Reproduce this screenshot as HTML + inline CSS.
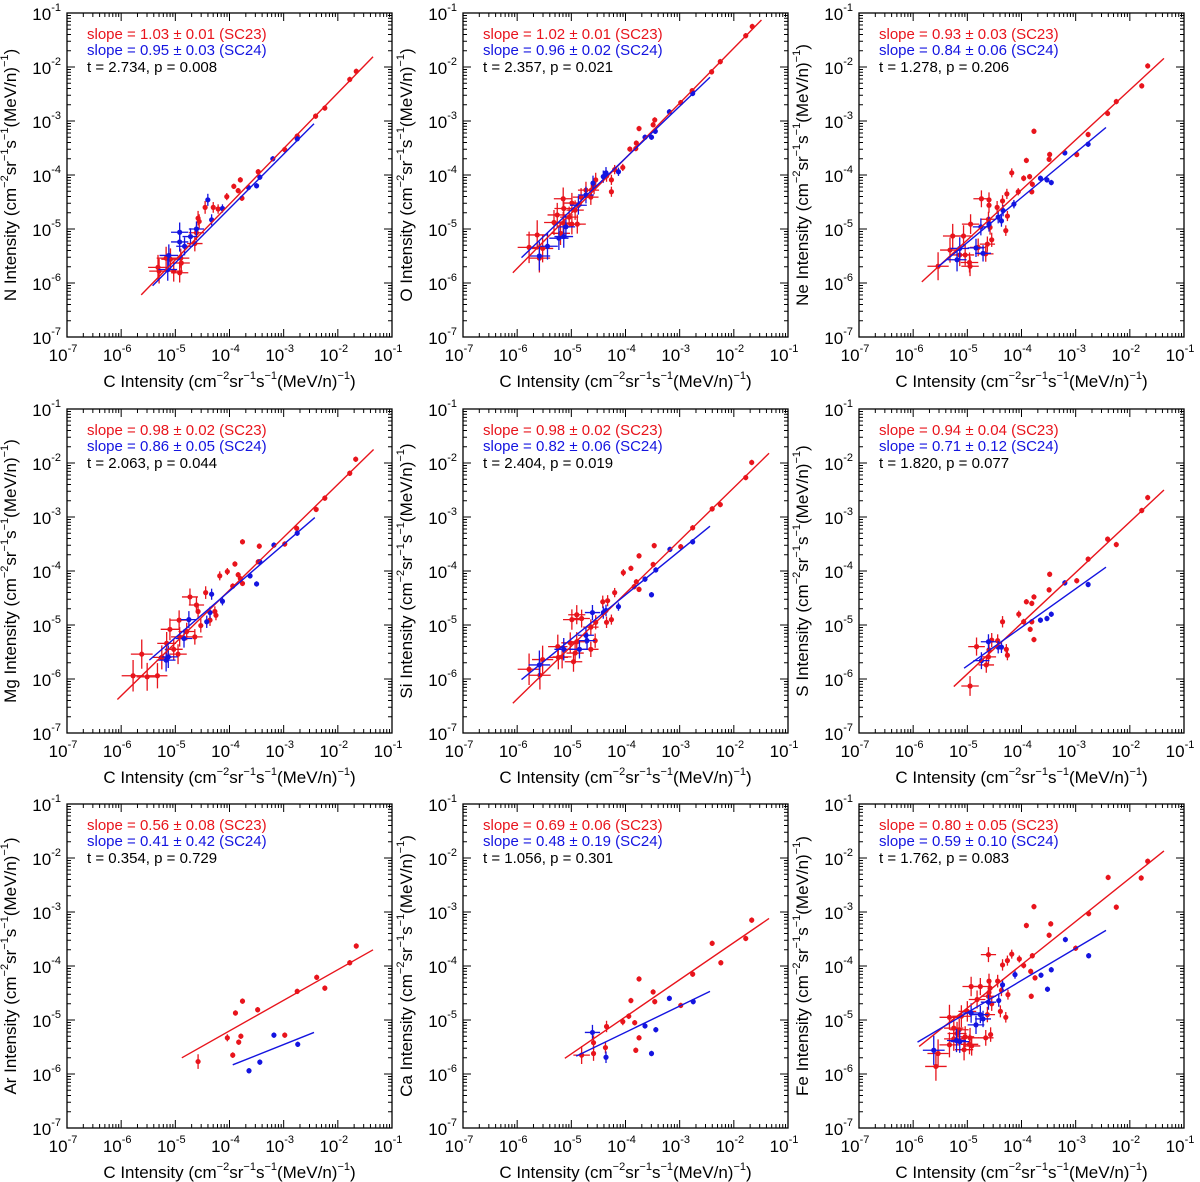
<!DOCTYPE html>
<html><head><meta charset="utf-8"><title>Element vs C intensity</title>
<style>
html,body{margin:0;padding:0;background:#fff;}
svg{display:block;font-family:"Liberation Sans",Arial,sans-serif;}
</style></head>
<body>
<svg id="chart" width="1200" height="1182" viewBox="0 0 1200 1182" xmlns="http://www.w3.org/2000/svg"></svg>
<script>
// ---- data (log10 of intensities) ----
const xTickExp = [-7,-6,-5,-4,-3,-2,-1];
const yTickExp = [-7,-6,-5,-4,-3,-2,-1];
const panelElements = ["N","O","Ne","Mg","Si","S","Ar","Ca","Fe"];
const slope23Text = ["1.03 ± 0.01","1.02 ± 0.01","0.93 ± 0.03","0.98 ± 0.02","0.98 ± 0.02","0.94 ± 0.04","0.56 ± 0.08","0.69 ± 0.06","0.80 ± 0.05"];
const slope24Text = ["0.95 ± 0.03","0.96 ± 0.02","0.84 ± 0.06","0.86 ± 0.05","0.82 ± 0.06","0.71 ± 0.12","0.41 ± 0.42","0.48 ± 0.19","0.59 ± 0.10"];
const tText = ["2.734","2.357","1.278","2.063","2.404","1.820","0.354","1.056","1.762"];
const pText = ["0.008","0.021","0.206","0.044","0.019","0.077","0.729","0.301","0.083"];

// fit lines: [logx1, logy1, logx2, logy2]
const fit23 = [[-5.63,-6.22,-1.35,-1.81],[-6.08,-5.81,-1.49,-1.13],[-5.84,-5.98,-1.37,-1.84],[-6.07,-6.38,-1.34,-1.75],[-6.08,-6.45,-1.35,-1.82],[-5.25,-6.14,-1.37,-2.5],[-4.88,-5.70,-1.35,-3.70],[-5.12,-5.71,-1.35,-3.12],[-5.89,-5.49,-1.37,-1.87]];
const fit24 = [[-5.42,-6.05,-2.44,-3.05],[-5.92,-5.53,-2.44,-2.19],[-5.54,-5.70,-2.44,-3.12],[-5.48,-5.65,-2.425,-3.01],[-5.92,-6.01,-2.44,-3.17],[-5.06,-5.80,-2.44,-3.93],[-3.94,-5.83,-2.44,-5.23],[-4.91,-5.67,-2.44,-4.47],[-5.92,-5.41,-2.44,-3.34]];

// SC23 (red) / SC24 (blue) points: log10 x / y values
const n23x=[-1.66,-1.78,-2.24,-2.41,-2.75,-2.98,-3.47,-3.8,-3.92,-3.84,-3.77,-4.05,-4.21,-4.3,-4.45,-4.58,-4.56,-4.61,-4.64,-4.9,-5.09,-4.92,-5.3,-5.17,-5.03,-5.32,-4.89];
const n23y=[-2.08,-2.23,-2.76,-2.91,-3.28,-3.53,-3.94,-4.09,-4.21,-4.29,-4.43,-4.4,-4.63,-4.6,-4.6,-4.8,-4.86,-5.07,-5.27,-5.54,-5.56,-5.81,-5.78,-5.54,-5.78,-5.71,-5.63];
const n24x=[-2.75,-3.2,-3.44,-3.65,-3.5,-4.13,-4.4,-4.33,-4.61,-4.72,-4.83,-4.92,-4.92,-5.12,-5.14];
const n24y=[-3.33,-3.7,-4.04,-4.23,-4.2,-4.62,-4.46,-4.83,-5.0,-5.14,-5.32,-5.24,-5.06,-5.49,-5.75];

const o23x=[-1.66,-1.78,-2.25,-2.41,-2.77,-2.98,-3.46,-3.49,-3.75,-3.8,-3.92,-3.81,-4.05,-4.2,-4.35,-4.26,-4.55,-4.26,-4.58,-4.63,-4.73,-4.64,-4.82,-4.99,-5.15,-4.93,-5.14,-5.04,-5.26,-4.89,-4.99,-5.15,-5.32,-5.2,-5.63,-5.78,-5.53,-5.59];
const o23y=[-1.25,-1.42,-1.9,-2.09,-2.44,-2.66,-2.98,-3.07,-3.14,-3.41,-3.52,-3.51,-3.86,-3.9,-4.02,-4.09,-4.09,-4.31,-4.22,-4.28,-4.28,-4.41,-4.41,-4.52,-4.44,-4.65,-4.62,-4.78,-4.74,-4.91,-4.91,-4.89,-4.88,-5.08,-5.11,-5.34,-5.36,-5.54];
const o24x=[-2.76,-3.19,-3.45,-3.52,-3.64,-4.13,-4.36,-4.41,-4.6,-4.73,-4.87,-5.1,-5.14,-5.23,-5.44,-5.59];
const o24y=[-2.49,-2.83,-3.19,-3.3,-3.3,-3.94,-3.96,-4.03,-4.15,-4.37,-4.56,-4.96,-5.14,-5.17,-5.32,-5.5];

const ne23x=[-1.67,-1.78,-2.25,-2.41,-2.77,-2.98,-3.48,-3.49,-3.77,-3.91,-3.96,-3.85,-3.8,-3.81,-4.06,-4.18,-4.27,-4.35,-4.45,-4.26,-4.29,-4.6,-4.74,-4.6,-4.61,-4.58,-4.55,-4.63,-4.66,-4.94,-5.07,-5.27,-5.32,-5.14,-5.04,-4.96,-4.95,-5.54,-4.8];
const ne23y=[-1.98,-2.35,-2.64,-2.86,-3.25,-3.62,-3.62,-3.71,-3.19,-3.73,-4.06,-4.03,-4.17,-4.31,-4.31,-3.96,-4.35,-4.48,-4.6,-4.76,-5.03,-4.46,-4.44,-4.56,-4.82,-4.97,-5.2,-5.28,-5.46,-4.91,-5.13,-5.13,-5.39,-5.48,-5.48,-5.62,-5.69,-5.69,-5.34];
const ne24x=[-2.77,-3.2,-3.65,-3.53,-3.45,-4.14,-4.34,-4.37,-4.43,-4.6,-4.75,-4.84,-4.71,-5.14,-5.19];
const ne24y=[-3.43,-3.59,-4.06,-4.09,-4.14,-4.54,-4.66,-4.85,-4.78,-4.91,-4.96,-5.35,-5.45,-5.36,-5.57];

const mg23x=[-1.67,-1.78,-2.24,-2.4,-2.76,-2.98,-3.45,-3.76,-3.47,-3.9,-4.04,-4.18,-3.84,-3.8,-3.94,-3.76,-4.44,-4.73,-4.61,-4.58,-4.27,-4.25,-4.93,-4.36,-4.53,-5.1,-4.79,-4.64,-4.92,-5.16,-5.03,-4.95,-5.62,-5.25,-5.78,-5.52,-5.33];
const mg23y=[-1.93,-2.19,-2.65,-2.86,-3.21,-3.5,-3.54,-3.46,-3.83,-3.87,-4.01,-4.09,-4.07,-4.14,-4.28,-4.23,-4.4,-4.48,-4.63,-4.75,-4.75,-4.82,-4.91,-4.91,-5.01,-5.08,-5.12,-5.22,-5.22,-5.34,-5.45,-5.54,-5.54,-5.6,-5.94,-5.96,-5.94];
const mg24x=[-2.75,-3.18,-3.44,-3.62,-3.5,-4.13,-4.33,-4.36,-4.42,-4.75,-4.84,-5.13,-5.17];
const mg24y=[-3.3,-3.52,-3.83,-4.09,-4.24,-4.56,-4.43,-4.77,-4.94,-4.9,-5.25,-5.59,-5.65];

const si23x=[-1.67,-1.78,-2.25,-2.4,-2.76,-2.98,-3.47,-3.49,-3.75,-3.9,-4.04,-3.8,-3.75,-3.84,-4.2,-4.33,-4.42,-4.9,-4.81,-4.99,-4.26,-4.35,-4.64,-4.55,-4.56,-4.64,-4.9,-5.02,-5.25,-5.24,-5.17,-4.93,-4.96,-5.53,-5.78,-5.58];
const si23y=[-1.99,-2.27,-2.77,-2.85,-3.2,-3.55,-3.53,-3.88,-3.72,-3.95,-4.03,-4.2,-4.34,-4.29,-4.4,-4.55,-4.57,-4.81,-4.88,-4.9,-4.9,-4.95,-5.04,-4.95,-5.29,-5.45,-5.31,-5.33,-5.4,-5.6,-5.59,-5.52,-5.68,-5.64,-5.82,-5.93];
const si24x=[-2.76,-3.18,-3.44,-3.64,-3.52,-4.13,-4.36,-4.41,-4.61,-4.73,-4.71,-4.85,-5.14,-5.59];
const si24y=[-3.46,-3.6,-3.98,-4.15,-4.44,-4.66,-4.73,-4.77,-4.77,-5.19,-5.29,-5.45,-5.45,-5.74];

const s23x=[-1.67,-1.78,-2.41,-2.25,-2.77,-2.98,-3.48,-3.49,-3.77,-3.91,-3.81,-4.05,-3.96,-3.81,-3.84,-3.77,-4.35,-4.55,-4.44,-4.28,-4.26,-4.83,-4.6,-4.61,-4.65,-4.95];
const s23y=[-2.64,-2.88,-3.41,-3.51,-3.78,-4.18,-4.06,-4.35,-4.48,-4.57,-4.6,-4.8,-4.94,-4.94,-5.08,-5.27,-4.94,-5.28,-5.29,-5.45,-5.56,-5.4,-5.46,-5.59,-5.74,-6.13];
const s24x=[-2.77,-3.2,-3.65,-3.53,-3.45,-4.37,-4.43,-4.61,-4.74];
const s24y=[-4.25,-4.22,-4.91,-4.88,-4.8,-5.41,-5.41,-5.31,-5.66];

const ar23x=[-1.66,-1.78,-2.24,-2.39,-2.75,-2.98,-3.48,-3.76,-3.89,-3.79,-3.83,-4.04,-3.94,-4.58];
const ar23y=[-3.63,-3.94,-4.41,-4.21,-4.47,-5.28,-4.81,-4.65,-4.87,-5.30,-5.41,-5.33,-5.65,-5.77];
const ar24x=[-3.18,-2.74,-3.44,-3.64];
const ar24y=[-5.28,-5.45,-5.78,-5.94];

const ca23x=[-1.67,-1.78,-2.4,-2.24,-2.76,-3.75,-3.49,-3.46,-3.9,-3.94,-4.05,-3.83,-3.75,-3.81,-2.98,-4.35,-4.59,-4.59,-4.37,-4.81];
const ca23y=[-3.15,-3.49,-3.58,-3.94,-4.15,-4.24,-4.48,-4.66,-4.64,-4.93,-5.03,-5.05,-5.33,-5.56,-4.73,-5.12,-5.42,-5.62,-5.51,-5.65];
const ca24x=[-3.19,-2.75,-3.64,-3.44,-4.61,-4.36,-3.52];
const ca24y=[-4.6,-4.66,-5.11,-5.18,-5.23,-5.69,-5.62];

const fe23x=[-1.67,-1.79,-2.4,-2.25,-2.76,-3.77,-3.91,-3.46,-3.49,-3.0,-3.8,-3.96,-3.83,-3.75,-3.82,-4.04,-4.18,-4.26,-4.35,-4.61,-4.44,-4.6,-4.93,-4.76,-4.58,-4.6,-4.61,-4.25,-4.37,-4.82,-4.55,-4.39,-4.29,-4.63,-5.0,-5.11,-5.33,-5.25,-5.15,-5.19,-5.04,-4.95,-5.25,-5.33,-4.96,-5.06,-4.92,-4.66,-4.57,-5.54,-5.58];
const fe23y=[-2.06,-2.37,-2.36,-2.91,-3.03,-2.9,-3.25,-3.22,-3.43,-3.67,-3.81,-3.99,-4.1,-4.22,-4.56,-3.87,-3.78,-3.9,-3.98,-3.79,-4.28,-4.28,-4.38,-4.38,-4.41,-4.49,-4.56,-4.53,-4.45,-4.62,-4.7,-4.84,-4.95,-4.9,-4.84,-4.93,-4.95,-5.15,-5.18,-5.25,-5.31,-5.33,-5.35,-5.46,-5.45,-5.55,-5.48,-5.33,-5.27,-5.62,-5.86];
const fe24x=[-3.19,-2.76,-3.45,-3.64,-3.52,-4.12,-4.35,-4.42,-4.61,-4.76,-4.71,-4.93,-4.84,-5.14,-5.2,-5.62];
const fe24y=[-3.51,-3.81,-4.07,-4.17,-4.43,-4.16,-4.35,-4.64,-4.67,-4.9,-4.98,-4.87,-5.09,-5.4,-5.38,-5.56];

const series23X=[n23x,o23x,ne23x,mg23x,si23x,s23x,ar23x,ca23x,fe23x];
const series23Y=[n23y,o23y,ne23y,mg23y,si23y,s23y,ar23y,ca23y,fe23y];
const series24X=[n24x,o24x,ne24x,mg24x,si24x,s24x,ar24x,ca24x,fe24x];
const series24Y=[n24y,o24y,ne24y,mg24y,si24y,s24y,ar24y,ca24y,fe24y];

// ---- layout ----
const NS="http://www.w3.org/2000/svg";
const svg=document.getElementById('chart');
const colX=[67,463,859], rowY=[13,409,804];
const PW=325, PH=324;
const RED="#e8141c", BLUE="#1414e0";

function mk(tag,attrs,parent){const e=document.createElementNS(NS,tag);for(const k in attrs)e.setAttribute(k,attrs[k]);(parent||svg).appendChild(e);return e;}

const SUP='<tspan dy="-8" font-size="11">';
function unitsMarkup(){
  return ' Intensity (cm'+SUP+'−2</tspan><tspan dy="8">sr</tspan>'+SUP+'−1</tspan><tspan dy="8">s</tspan>'+SUP+'−1</tspan><tspan dy="8">(MeV/n)</tspan>'+SUP+'−1</tspan><tspan dy="8">)</tspan>';
}

function drawPanel(i){
  const x0=colX[i%3], y0=rowY[Math.floor(i/3)];
  const g=mk('g',{});
  
  
  const sx=v=>x0+(v+7)/6*PW;
  const sy=v=>y0+PH-(v+7)/6*PH;
  const fr=mk('rect',{x:x0,y:y0,width:PW,height:PH,fill:'none',stroke:'#000','stroke-width':1.3},g);
  
  
  let d='';
  for(let e=-7;e<=-1;e++){
    for(let m=1;m<=9;m++){
      const v=e+Math.log10(m);
      if(v>-1+1e-9)break;
      const L=(m===1)?8:4;
      const X=sx(v), Y=sy(v);
      d+=`M${X},${y0+PH}v${-L}M${X},${y0}v${L}`;
      d+=`M${x0},${Y}h${L}M${x0+PW},${Y}h${-L}`;
    }
  }
  const tk=mk('path',{d:d,stroke:'#000','stroke-width':1,fill:'none'},g);
  
  
  xTickExp.forEach(e=>{
    const t=mk('text',{x:sx(e)-4,y:y0+PH+24,'font-size':17,'text-anchor':'middle'},g);
    
    
    t.textContent='10';
    const s=mk('tspan',{dy:-9,'font-size':11},t); s.textContent=String(e);
  });
  yTickExp.forEach(e=>{
    const t=mk('text',{x:x0-6,y:sy(e)+7,'font-size':17,'text-anchor':'end'},g);
    
    
    t.textContent='10';
    const s=mk('tspan',{dy:-9,'font-size':11},t); s.textContent=String(e);
  });
  const xt=mk('text',{x:x0+PW/2,y:y0+PH+50,'font-size':17,'text-anchor':'middle'},g);
  
  
  xt.innerHTML='C'+unitsMarkup();
  const yt=mk('text',{x:0,y:0,'font-size':17,'text-anchor':'middle',transform:`translate(${x0-51},${y0+PH/2}) rotate(-90)`},g);
  
  
  yt.innerHTML=panelElements[i]+unitsMarkup();
  const a1=mk('text',{x:x0+20,y:y0+26,'font-size':15,fill:RED},g);
  
  
  a1.textContent='slope = '+slope23Text[i]+' (SC23)';
  const a2=mk('text',{x:x0+20,y:y0+42,'font-size':15,fill:BLUE},g);
  
  
  a2.textContent='slope = '+slope24Text[i]+' (SC24)';
  const a3=mk('text',{x:x0+20,y:y0+59,'font-size':15,fill:'#000'},g);
  
  
  a3.textContent='t = '+tText[i]+', p = '+pText[i];
  function pts(xs,ys,col,nm){
    xs.forEach((xv,k)=>{
      const yv=ys[k];
      const ye=Math.min(0.32,Math.max(0.05,0.06+0.13*(-4.0-xv)));
      const xe=xv<-4.6?0.14+0.06*(-4.6-xv):0;
      const eb=mk('path',{d:`M${sx(xv)},${sy(yv-ye)}V${sy(yv+ye)}`+(xe?`M${sx(xv-xe)},${sy(yv)}H${sx(xv+xe)}`:''),stroke:col,'stroke-width':1.3,fill:'none'},g);
      
      
      const c=mk('circle',{cx:sx(xv),cy:sy(yv),r:2.6,fill:col},g);
      
      
    });
  }
  pts(series23X[i],series23Y[i],RED,'sc23');
  pts(series24X[i],series24Y[i],BLUE,'sc24');
  const f1=fit23[i], f2=fit24[i];
  const l1=mk('line',{x1:sx(f1[0]),y1:sy(f1[1]),x2:sx(f1[2]),y2:sy(f1[3]),stroke:RED,'stroke-width':1.4},g);
  
  
  const l2=mk('line',{x1:sx(f2[0]),y1:sy(f2[1]),x2:sx(f2[2]),y2:sy(f2[3]),stroke:BLUE,'stroke-width':1.4},g);
  
  
}
for(let i=0;i<9;i++)drawPanel(i);
</script>
</body></html>
